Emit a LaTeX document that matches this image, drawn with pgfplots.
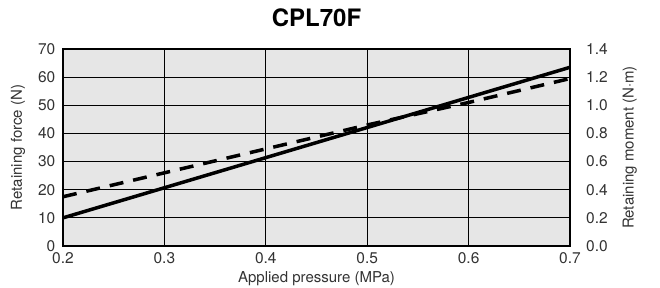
\documentclass[border=0pt]{standalone}
\usepackage{fontspec}
\setmainfont{TeX Gyre Heros}
\usepackage{pgfplots}
\pgfplotsset{compat=1.18}
\definecolor{bg}{HTML}{E6E6E6}
\definecolor{txt}{HTML}{333333}
\begin{document}
\begin{tikzpicture}[x=1pt,y=1pt]
\useasboundingbox (0,0) rectangle (660,287);
\pgfplotsset{
  common/.style={
    at={(63pt,41pt)}, anchor=south west, scale only axis,
    width=507pt, height=197pt,
    xmin=0.2, xmax=0.7,
    tick style={draw=none},
    /pgf/number format/assume math mode=true,
    ticklabel style={font=\fontsize{15.5}{15.5}\selectfont, text=txt, inner sep=0pt},
    label style={font=\fontsize{15}{15}\selectfont, text=txt},
  }
}
\begin{axis}[common,
  ymin=0, ymax=70,
  xtick={0.2,0.3,0.4,0.5,0.6,0.7},
  ytick={0,10,20,30,40,50,60,70},
  xticklabel style={/pgf/number format/fixed, /pgf/number format/precision=1, /pgf/number format/fixed zerofill, yshift=-6pt},
  yticklabel style={xshift=-7.5pt},
  grid=major, major grid style={black, line width=1pt},
  axis background/.style={fill=bg},
  axis line style={line width=1.6pt},
  xlabel={Applied pressure (MPa)},
  ylabel={Retaining force (N)},
  xlabel style={at={(axis description cs:0.5,0)}, anchor=center, yshift=-33pt},
  ylabel style={at={(axis description cs:-0.0888,0.5)}, anchor=center},
  title={CPL70F},
  title style={at={(axis description cs:0.5,1)}, anchor=center, yshift=25pt, font=\bfseries\fontsize{24}{24}\selectfont},
]
\addplot[black, line width=3.5pt] coordinates {
(0.2,10.0) (0.3,20.7) (0.4,31.4) (0.5,42.1) (0.6,52.8) (0.7,63.5)
};
\end{axis}
\begin{axis}[common,
  axis x line=none,
  axis y line*=right,
  axis line style={draw=none},
  ymin=0, ymax=1.4,
  ytick={0,0.2,0.4,0.6,0.8,1.0,1.2,1.4},
  yticklabel style={/pgf/number format/fixed, /pgf/number format/precision=1, /pgf/number format/fixed zerofill, xshift=16pt},
  ylabel={Retaining moment (N$\cdot$m)},
  ylabel style={at={(axis description cs:1.118,0.5)}, anchor=center},
]
\addplot[black, line width=3.5pt, dash pattern=on 14pt off 10pt] coordinates {
(0.2,0.35) (0.3,0.52) (0.4,0.69) (0.5,0.86) (0.6,1.02) (0.7,1.19)
};
\end{axis}
\end{tikzpicture}
\end{document}
